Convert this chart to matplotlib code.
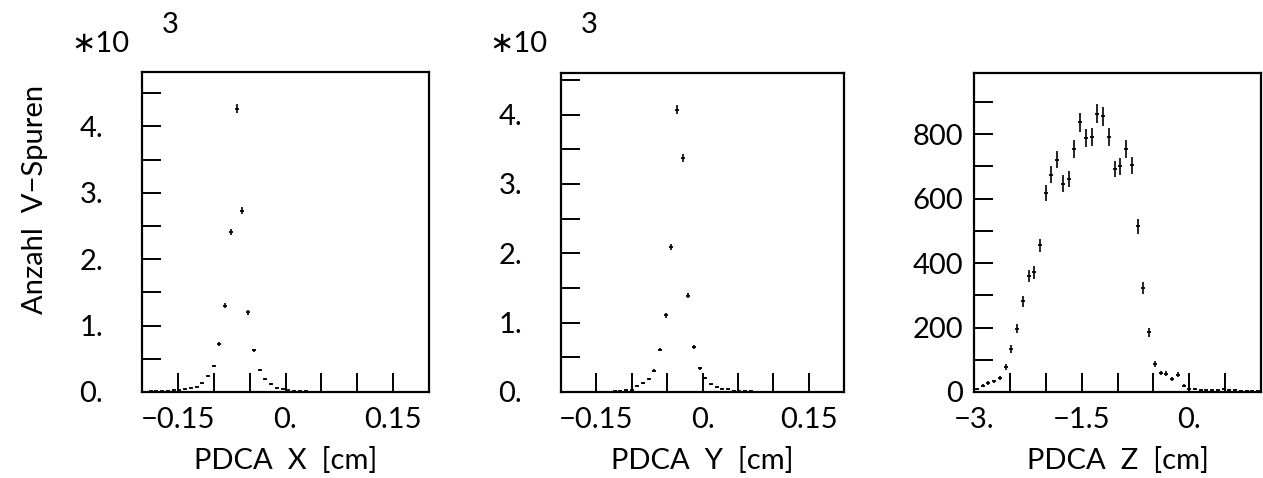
import numpy as np
import matplotlib
matplotlib.use('Agg')
import matplotlib.pyplot as plt

plt.rcParams['font.family'] = ['Lato', 'DejaVu Sans']

# PDCA X histogram (bin centres in cm, counts in units of 10^3)
x_pdca = [-0.196, -0.188, -0.180, -0.172, -0.164, -0.156, -0.148, -0.140, -0.132, -0.124,
          -0.116, -0.108, -0.100, -0.092, -0.084, -0.076, -0.068, -0.060, -0.052, -0.044,
          -0.036, -0.028, -0.020, -0.012, -0.004, 0.004, 0.012, 0.020, 0.028, 0.036]
x_counts = [0.005, 0.008, 0.010, 0.015, 0.020, 0.025, 0.030, 0.040, 0.055, 0.080,
            0.130, 0.240, 0.390, 0.720, 1.300, 2.410, 4.270, 2.730, 1.200, 0.630,
            0.330, 0.190, 0.120, 0.065, 0.045, 0.030, 0.020, 0.015, 0.010, 0.005]

# PDCA Y histogram
y_pdca = [-0.124, -0.116, -0.108, -0.100, -0.092, -0.084, -0.076, -0.068, -0.060, -0.052,
          -0.044, -0.036, -0.028, -0.020, -0.012, -0.004, 0.004, 0.012, 0.020, 0.028,
          0.036, 0.044, 0.052, 0.060, 0.068]
y_counts = [0.015, 0.020, 0.025, 0.035, 0.092, 0.130, 0.190, 0.310, 0.610, 1.105,
            2.090, 4.070, 3.370, 1.390, 0.650, 0.340, 0.200, 0.110, 0.072, 0.049,
            0.040, 0.020, 0.015, 0.010, 0.010]

# PDCA Z histogram (plain counts)
z_pdca = [-2.96, -2.88, -2.80, -2.72, -2.64, -2.56, -2.48, -2.40, -2.32, -2.24,
          -2.16, -2.08, -2.00, -1.92, -1.84, -1.76, -1.68, -1.60, -1.52, -1.44,
          -1.36, -1.28, -1.20, -1.12, -1.04, -0.96, -0.88, -0.80, -0.72, -0.64,
          -0.56, -0.48, -0.40, -0.32, -0.24, -0.16, -0.08, 0.00, 0.08, 0.16,
          0.24, 0.32, 0.40, 0.48, 0.56, 0.64, 0.72, 0.80, 0.88, 0.96]
z_counts = [9, 20, 28, 33, 43, 78, 134, 197, 281, 361,
            371, 455, 618, 675, 721, 647, 661, 755, 837, 789,
            792, 863, 856, 792, 692, 700, 755, 703, 514, 323,
            185, 88, 59, 57, 40, 54, 20, 9, 9, 7,
            5, 5, 5, 10, 7, 5, 4, 3, 3, 2]

xy_ticks = [-0.15, -0.1, -0.05, 0.0, 0.05, 0.1, 0.15]
xy_ticklabels = ['\u22120.15', '', '', '0.', '', '', '0.15']
k_ticks = [0, 0.5, 1, 1.5, 2, 2.5, 3, 3.5, 4, 4.5]
k_ticklabels = ['0.', '', '1.', '', '2.', '', '3.', '', '4.', '']
z_ticks = [-3, -2.5, -2, -1.5, -1, -0.5, 0, 0.5]
z_ticklabels = ['\u22123.', '', '', '\u22121.5', '', '', '0.', '']
n_ticks = [0, 100, 200, 300, 400, 500, 600, 700, 800, 900]
n_ticklabels = ['0', '', '200', '', '400', '', '600', '', '800', '']

W, H = 1263, 478
FS = 21

fig = plt.figure(figsize=(W / 100, H / 100), dpi=100)


def add_box(left, right, top, bottom):
    return fig.add_axes([left / W, 1 - bottom / H, (right - left) / W, (bottom - top) / H])


def style(ax, ypad):
    for s in ax.spines.values():
        s.set_linewidth(1.6)
    ax.tick_params(direction='in', length=14, width=1.4, labelsize=FS,
                   top=False, right=False)
    ax.tick_params(axis='x', pad=11)
    ax.tick_params(axis='y', pad=ypad)


def draw_hist(ax, xs, ys, scale):
    ys = np.array(ys)
    err = np.sqrt(ys * scale) / scale
    ax.errorbar(xs, ys, yerr=err, fmt='_', ms=3.5, mew=1.3, color='k',
                ecolor='k', elinewidth=1.2, capsize=0)


# panel X
ax1 = add_box(142, 429, 72, 392)
draw_hist(ax1, x_pdca, x_counts, 1000)
ax1.set_xlim(-0.2, 0.2)
ax1.set_ylim(0, 4.82)
ax1.set_xticks(xy_ticks, xy_ticklabels)
ax1.set_yticks(k_ticks, k_ticklabels)
style(ax1, 28)
ax1.set_xlabel('PDCA  X  [cm]', fontsize=FS, labelpad=10)
fig.text(35 / W, 1 - 199 / H, 'Anzahl  V\u2212Spuren', fontsize=FS,
         rotation=90, ha='center', va='center')
fig.text(100 / W, 1 - 44 / H, '\u221710', fontsize=FS, ha='center', va='center')
fig.text(170 / W, 1 - 25 / H, '3', fontsize=FS, ha='center', va='center')

# panel Y
ax2 = add_box(561, 844, 73, 392)
draw_hist(ax2, y_pdca, y_counts, 1000)
ax2.set_xlim(-0.2, 0.2)
ax2.set_ylim(0, 4.6)
ax2.set_xticks(xy_ticks, xy_ticklabels)
ax2.set_yticks(k_ticks, k_ticklabels)
style(ax2, 28)
ax2.set_xlabel('PDCA  Y  [cm]', fontsize=FS, labelpad=10)
fig.text(518 / W, 1 - 44 / H, '\u221710', fontsize=FS, ha='center', va='center')
fig.text(589 / W, 1 - 25 / H, '3', fontsize=FS, ha='center', va='center')

# panel Z
ax3 = add_box(974, 1261, 73, 392)
draw_hist(ax3, z_pdca, z_counts, 1)
ax3.set_xlim(-3, 1)
ax3.set_ylim(0, 990)
ax3.set_xticks(z_ticks, z_ticklabels)
ax3.set_yticks(n_ticks, n_ticklabels)
style(ax3, 8)
ax3.set_xlabel('PDCA  Z  [cm]', fontsize=FS, labelpad=10)

fig.savefig('out.png', dpi=100)
